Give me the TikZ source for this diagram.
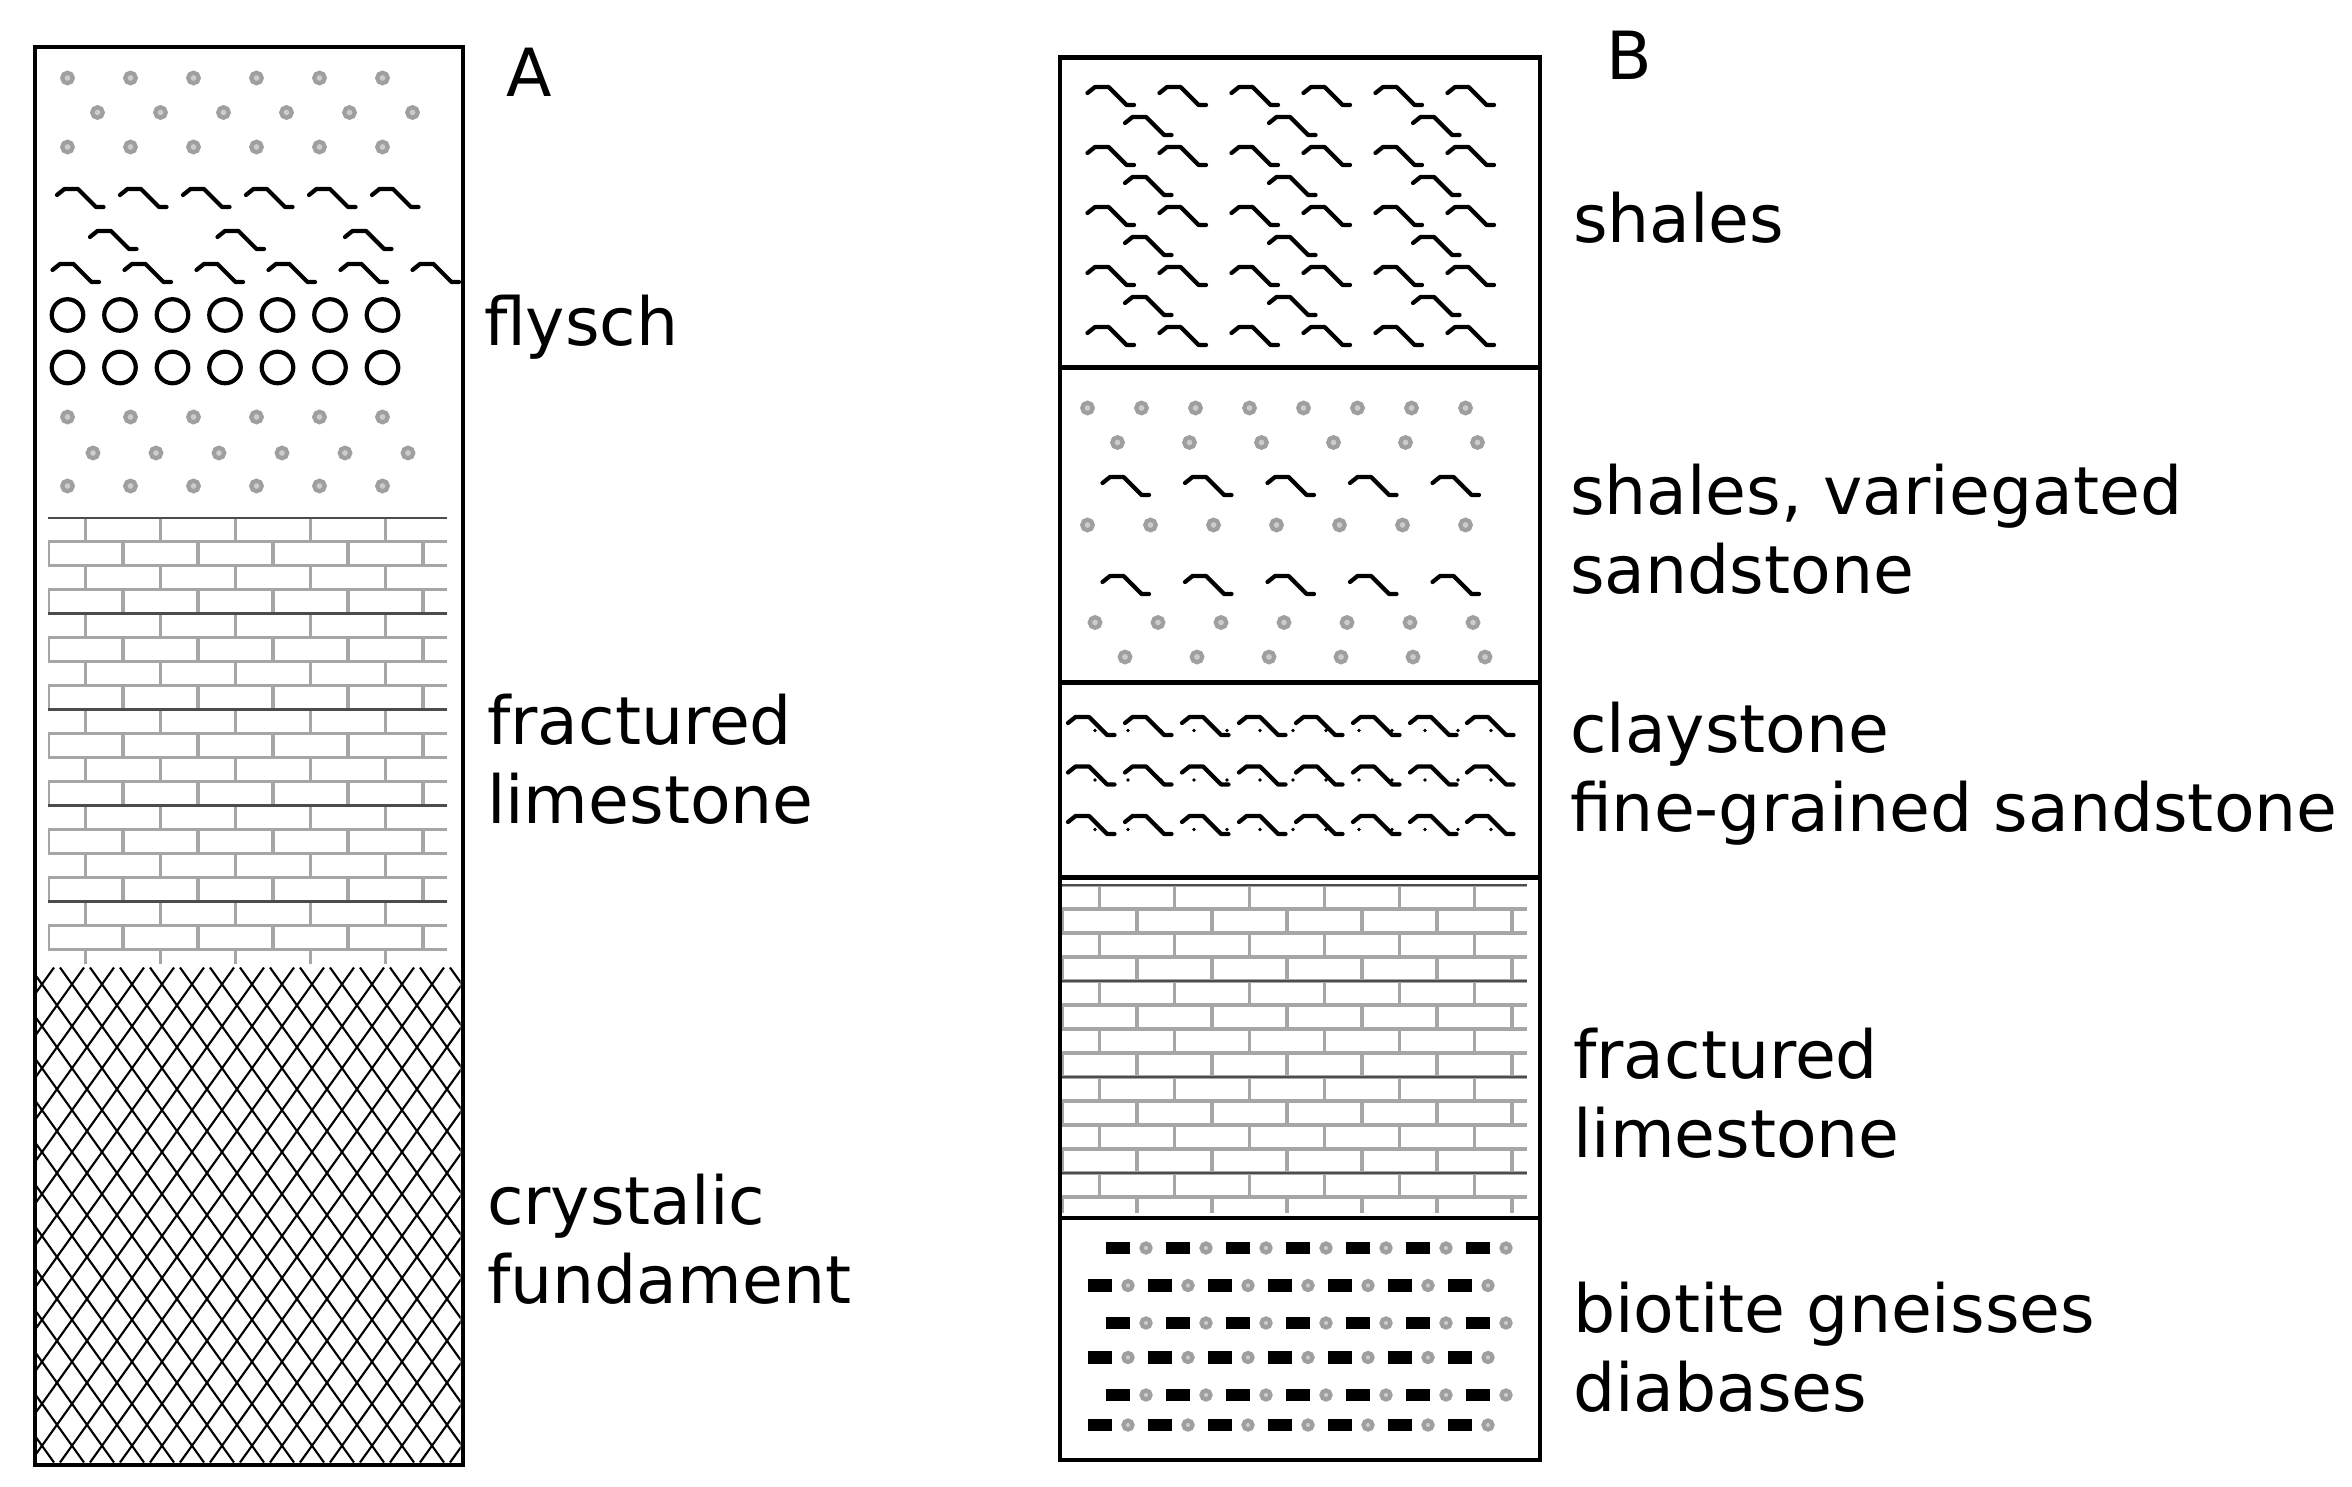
\documentclass[tikz,border=0pt]{standalone}
\usepackage{fontspec}
\setmainfont{DejaVu Sans}
\setsansfont{DejaVu Sans}
\usetikzlibrary{positioning}
\newcommand\grainrow[4]{% y, x0, x1, step
  \pgfmathsetmacro\gnext{#2+#4}
  \foreach \gx in {#2,\gnext,...,#3} {\filldraw[grain] (\gx,#1) circle (0.035);}}
\newcommand\shalerow[4]{%
  \pgfmathsetmacro\snext{#2+#4}
  \foreach \gx in {#2,\snext,...,#3} {\draw[shale] (\gx,#1) -- ++(0.05,-0.04) -- ++(0.09,0) -- ++(0.12,0.12) -- ++(0.05,0);}}
\newcommand\brickfield[4]{% x0, x1, y0, y1
  \begin{scope}
  \clip (#1,#3) rectangle (#2,#4);
  \pgfmathsetmacro\bynext{#3+0.16}
  \pgfmathsetmacro\bxnext{#1+0.5}
  \pgfmathsetmacro\bdnext{#3+0.64}
  \foreach \by [count=\bi] in {#3,\bynext,...,#4} {
    \draw[brick] (#1,\by) -- (#2,\by);
    \pgfmathsetmacro\bo{mod(\bi,2)*0.25}
    \foreach \bx in {#1,\bxnext,...,#2} {\draw[brick] (\bx+\bo,\by) -- ++(0,0.16);}
  }
  \foreach \by in {#3,\bdnext,...,#4} {\draw[thin,black!70] (#1,\by) -- (#2,\by);}
  \end{scope}}
\begin{document}
\begin{tikzpicture}[x=1cm,y=-1cm,
    font=\fontsize{12.6}{15}\selectfont,
    grain/.style={gray!75,fill=gray!40,line width=0.8pt},
    shale/.style={thick,line cap=round,line join=round},
    brick/.style={gray!70,line width=0.7pt},
    label/.style={anchor=west,align=left,inner sep=0pt},
    column/.style={draw,thick}
  ]
  \useasboundingbox (0,0) rectangle (15.68,9.91);
  % column A
  \grainrow{0.52}{0.45}{2.9}{0.42}
  \grainrow{0.75}{0.65}{2.9}{0.42}
  \grainrow{0.98}{0.45}{2.9}{0.42}
  \shalerow{1.30}{0.38}{2.8}{0.42}
  \shalerow{1.58}{0.60}{2.6}{0.85}
  \shalerow{1.80}{0.35}{2.8}{0.48}
  \foreach \cy in {2.10,2.45} {\foreach \cx in {0.45,0.80,...,2.9} {\draw[thick] (\cx,\cy) circle (0.105);}}
  \grainrow{2.78}{0.45}{2.9}{0.42}
  \grainrow{3.02}{0.62}{2.9}{0.42}
  \grainrow{3.24}{0.45}{2.9}{0.42}
  \brickfield{0.32}{2.98}{3.45}{6.42}
  \begin{scope}
    \clip (0.22,6.45) rectangle (3.07,9.75);
    \foreach \hx in {-3,-2.8,...,5} {\draw[thin] (\hx,6.45) -- ++(2.36,3.3); \draw[thin] (\hx,9.75) -- ++(2.36,-3.3);}
  \end{scope}
  \node[column,minimum width=2.85cm,minimum height=9.45cm,anchor=north west] (colA) at (0.22,0.30) {};
  \node[label] (labA) at (3.37,0.48) {A};
  \node[label] (flysch) at (3.22,2.18) {flysch};
  \node[label] (limeA) at (3.24,5.06) {fractured\\limestone};
  \node[label] (crystal) at (3.24,8.26) {crystalic\\fundament};
  % column B
  \foreach \ry in {0.62,1.02,1.42,1.82,2.22} {\shalerow{\ry}{7.25}{9.9}{0.48}}
  \foreach \ry in {0.82,1.22,1.62,2.02} {\shalerow{\ry}{7.50}{9.9}{0.96}}
  \grainrow{2.72}{7.25}{10.0}{0.36}
  \grainrow{2.95}{7.45}{10.0}{0.48}
  \shalerow{3.22}{7.35}{9.9}{0.55}
  \grainrow{3.50}{7.25}{10.0}{0.42}
  \shalerow{3.88}{7.35}{9.9}{0.55}
  \grainrow{4.15}{7.30}{10.0}{0.42}
  \grainrow{4.38}{7.50}{10.0}{0.48}
  \foreach \ry in {4.82,5.15,5.48} {\shalerow{\ry}{7.12}{9.9}{0.38}
    \foreach \dx in {7.3,7.52,...,10.0} {\fill (\dx,\ry+0.05) circle (0.012);}}
  \brickfield{7.08}{10.18}{5.90}{8.08}
  \foreach \ry [count=\ri] in {8.32,8.57,8.82,9.05,9.30,9.50} {
    \pgfmathsetmacro\ro{mod(\ri,2)*0.12}
    \foreach \dx in {7.25,7.65,...,10.0} {\draw[line width=2.4pt] (\dx+\ro,\ry) -- ++(0.16,0);
      \filldraw[grain] (\dx+\ro+0.27,\ry) circle (0.03);}}
  \path (7.05,0.37) node[column,minimum width=3.2cm,minimum height=9.35cm,anchor=north west] (colB) {};
  \foreach \by in {2.45,4.55,5.85,8.12} {\draw[thick] (7.05,\by) -- (10.25,\by);}
  \node[label] (labB) at (10.70,0.37) {B};
  \node[label] (shales) at (10.48,1.45) {shales};
  \node[label] (variegated) at (10.46,3.53) {shales, variegated\\sandstone};
  \node[label] (clay) at (10.46,5.16) {claystone\\fine-grained sandstone};
  \node[label] (limeB) at (10.48,7.29) {fractured\\limestone};
  \node[label] (gneiss) at (10.48,8.98) {biotite gneisses\\diabases};
\end{tikzpicture}
\end{document}
